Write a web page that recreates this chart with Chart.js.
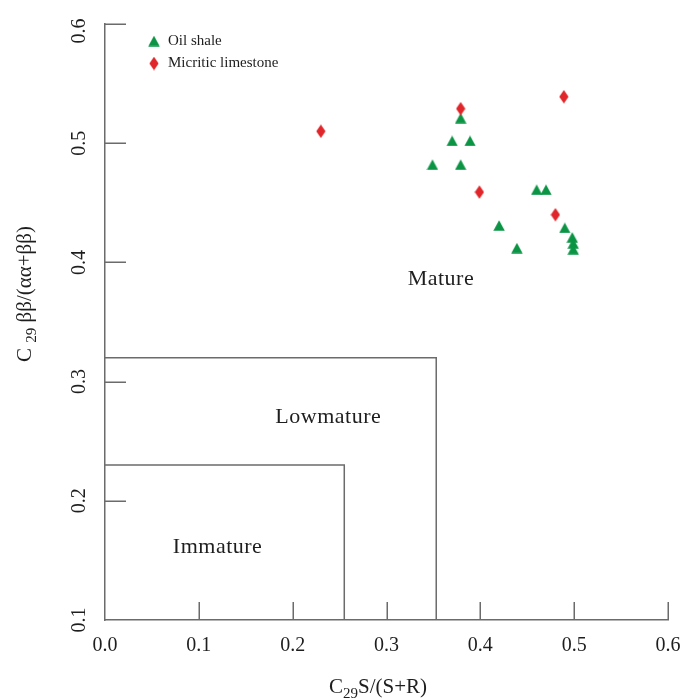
<!DOCTYPE html>
<html lang="en">
<head>
  <meta charset="UTF-8">
  <title>C29 sterane maturity plot</title>
  <script src="https://cdn.jsdelivr.net/npm/chart.js"></script>
  <style>
    body { margin: 0; background: #fff; }
    #wrap { width: 686px; height: 698px; }
  </style>
</head>
<body>
  <div id="wrap"><canvas id="maturityChart" width="686" height="698"></canvas></div>
  <script>
    // tick values
    const xTicks = [0.0, 0.1, 0.2, 0.3, 0.4, 0.5, 0.6];
    const yTicks = [0.1, 0.2, 0.3, 0.4, 0.5, 0.6];

    // Oil shale samples: C29 S/(S+R) vs C29 bb/(aa+bb)
    const oilShaleX = [0.379, 0.370, 0.389, 0.349, 0.379, 0.460, 0.470, 0.420, 0.490, 0.439, 0.498, 0.499, 0.499];
    const oilShaleY = [0.521, 0.502, 0.502, 0.482, 0.482, 0.461, 0.461, 0.431, 0.429, 0.412, 0.421, 0.416, 0.411];

    // Micritic limestone samples
    const limestoneX = [0.230, 0.379, 0.489, 0.399, 0.480];
    const limestoneY = [0.510, 0.529, 0.539, 0.459, 0.440];

    // maturity field boundaries (upper-right corner of each box)
    const lowmatureCorner = [0.353, 0.32];
    const immatureCorner = [0.255, 0.23];

    const fieldNames = ['Mature', 'Lowmature', 'Immature'];
    const fieldAnchors = [[0.358, 0.386], [0.238, 0.270], [0.120, 0.161]];

    const axisColor = '#6b6b6b';
    const textColor = '#1e1e1e';
    const green = '#0a9444';
    const red = '#e0262a';
    const serif = '"Liberation Serif", "DejaVu Serif", serif';

    function triangleImg(color) {
      const c = document.createElement('canvas');
      c.width = 12; c.height = 11;
      const g = c.getContext('2d');
      g.fillStyle = color;
      g.beginPath();
      g.moveTo(6, 0.3); g.lineTo(11.7, 10.7); g.lineTo(0.3, 10.7);
      g.closePath(); g.fill();
      return c;
    }
    function diamondImg(color) {
      const c = document.createElement('canvas');
      c.width = 10; c.height = 14;
      const g = c.getContext('2d');
      g.fillStyle = color;
      g.beginPath();
      g.moveTo(5, 0.3); g.lineTo(9.6, 7); g.lineTo(5, 13.7); g.lineTo(0.4, 7);
      g.closePath(); g.fill();
      return c;
    }
    const triIcon = triangleImg(green);
    const diaIcon = diamondImg(red);

    const toPoints = (xs, ys) => xs.map((x, i) => ({ x: x, y: ys[i] }));
    const boxPath = c => [{ x: 0, y: c[1] }, { x: c[0], y: c[1] }, { x: c[0], y: 0.1 }];

    // draw text pieces [text, isSub] centred on 0 along current x direction
    function drawSubText(ctx, parts, size, subSize, subShift) {
      let total = 0;
      const widths = parts.map(p => {
        ctx.font = (p[1] ? subSize : size) + 'px ' + serif;
        const w = ctx.measureText(p[0]).width;
        total += w;
        return w;
      });
      let x = -total / 2;
      parts.forEach((p, i) => {
        ctx.font = (p[1] ? subSize : size) + 'px ' + serif;
        ctx.fillText(p[0], x, p[1] ? subShift : 0);
        x += widths[i];
      });
    }

    const decorations = {
      id: 'decorations',
      afterDraw(chart) {
        const ctx = chart.ctx;
        const xs = chart.scales.x, ys = chart.scales.y;
        const area = chart.chartArea;
        ctx.save();

        // inward tick marks
        ctx.strokeStyle = axisColor;
        ctx.lineWidth = 1.5;
        ctx.beginPath();
        xTicks.slice(1).forEach(v => {
          const px = Math.round(xs.getPixelForValue(v)) + 0.25;
          ctx.moveTo(px, area.bottom);
          ctx.lineTo(px, area.bottom - 18);
        });
        yTicks.slice(1).forEach(v => {
          const py = Math.round(ys.getPixelForValue(v)) + 0.25;
          ctx.moveTo(area.left, py);
          ctx.lineTo(area.left + 21, py);
        });
        ctx.stroke();

        // tick labels
        ctx.fillStyle = textColor;
        ctx.font = '20px ' + serif;
        ctx.textAlign = 'center';
        ctx.textBaseline = 'middle';
        xTicks.forEach(v => {
          ctx.fillText(v.toFixed(1), xs.getPixelForValue(v), 646);
        });
        yTicks.forEach(v => {
          ctx.save();
          ctx.translate(80, Math.max(ys.getPixelForValue(v), 31));
          ctx.rotate(-Math.PI / 2);
          ctx.fillText(v.toFixed(1), 0, 0);
          ctx.restore();
        });

        // axis titles
        ctx.textAlign = 'left';
        ctx.textBaseline = 'alphabetic';
        ctx.save();
        ctx.translate(378, 693);
        drawSubText(ctx, [['C', false], ['29', true], ['S/(S+R)', false]], 21, 15, 5);
        ctx.restore();

        ctx.save();
        ctx.translate(31, 294);
        ctx.rotate(-Math.PI / 2);
        drawSubText(ctx, [['C ', false], ['29', true], [' \u03b2\u03b2/(\u03b1\u03b1+\u03b2\u03b2)', false]], 21, 15, 5);
        ctx.restore();

        // field names
        ctx.font = '22px ' + serif;
        ctx.textAlign = 'center';
        ctx.textBaseline = 'middle';
        if ('letterSpacing' in ctx) ctx.letterSpacing = '0.5px';
        fieldNames.forEach((name, i) => {
          ctx.fillText(name, xs.getPixelForValue(fieldAnchors[i][0]), ys.getPixelForValue(fieldAnchors[i][1]));
        });
        if ('letterSpacing' in ctx) ctx.letterSpacing = '0px';

        // legend
        ctx.textAlign = 'left';
        ctx.font = '15px ' + serif;
        chart.data.datasets.filter(d => d.legendIcon).forEach((d, i) => {
          const cy = 41 + i * 22.5;
          ctx.drawImage(d.legendIcon, 154 - d.legendIcon.width / 2, cy - d.legendIcon.height / 2);
          ctx.fillText(d.label, 168, cy);
        });
        ctx.restore();
      }
    };

    const ctx = document.getElementById('maturityChart').getContext('2d');
    new Chart(ctx, {
      type: 'scatter',
      data: {
        datasets: [
          {
            label: 'Oil shale',
            data: toPoints(oilShaleX, oilShaleY),
            pointStyle: triIcon,
            legendIcon: triIcon,
            order: 1
          },
          {
            label: 'Micritic limestone',
            data: toPoints(limestoneX, limestoneY),
            pointStyle: diaIcon,
            legendIcon: diaIcon,
            order: 0
          },
          {
            label: 'Lowmature field',
            type: 'line',
            data: boxPath(lowmatureCorner),
            borderColor: axisColor,
            borderWidth: 1.5,
            pointRadius: 0,
            fill: false,
            order: 5
          },
          {
            label: 'Immature field',
            type: 'line',
            data: boxPath(immatureCorner),
            borderColor: axisColor,
            borderWidth: 1.5,
            pointRadius: 0,
            fill: false,
            order: 5
          }
        ]
      },
      options: {
        responsive: false,
        animation: false,
        layout: { padding: { left: 105, top: 24, right: 18, bottom: 78 } },
        plugins: {
          legend: { display: false },
          tooltip: { enabled: false }
        },
        scales: {
          x: {
            type: 'linear',
            min: 0, max: 0.6,
            afterBuildTicks: s => { s.ticks = xTicks.map(v => ({ value: v })); },
            grid: { display: false, drawTicks: false },
            border: { display: true, color: axisColor, width: 1.5 },
            ticks: { display: false }
          },
          y: {
            type: 'linear',
            min: 0.1, max: 0.6,
            afterBuildTicks: s => { s.ticks = yTicks.map(v => ({ value: v })); },
            grid: { display: false, drawTicks: false },
            border: { display: true, color: axisColor, width: 1.5 },
            ticks: { display: false }
          }
        }
      },
      plugins: [decorations]
    });
  </script>
</body>
</html>
